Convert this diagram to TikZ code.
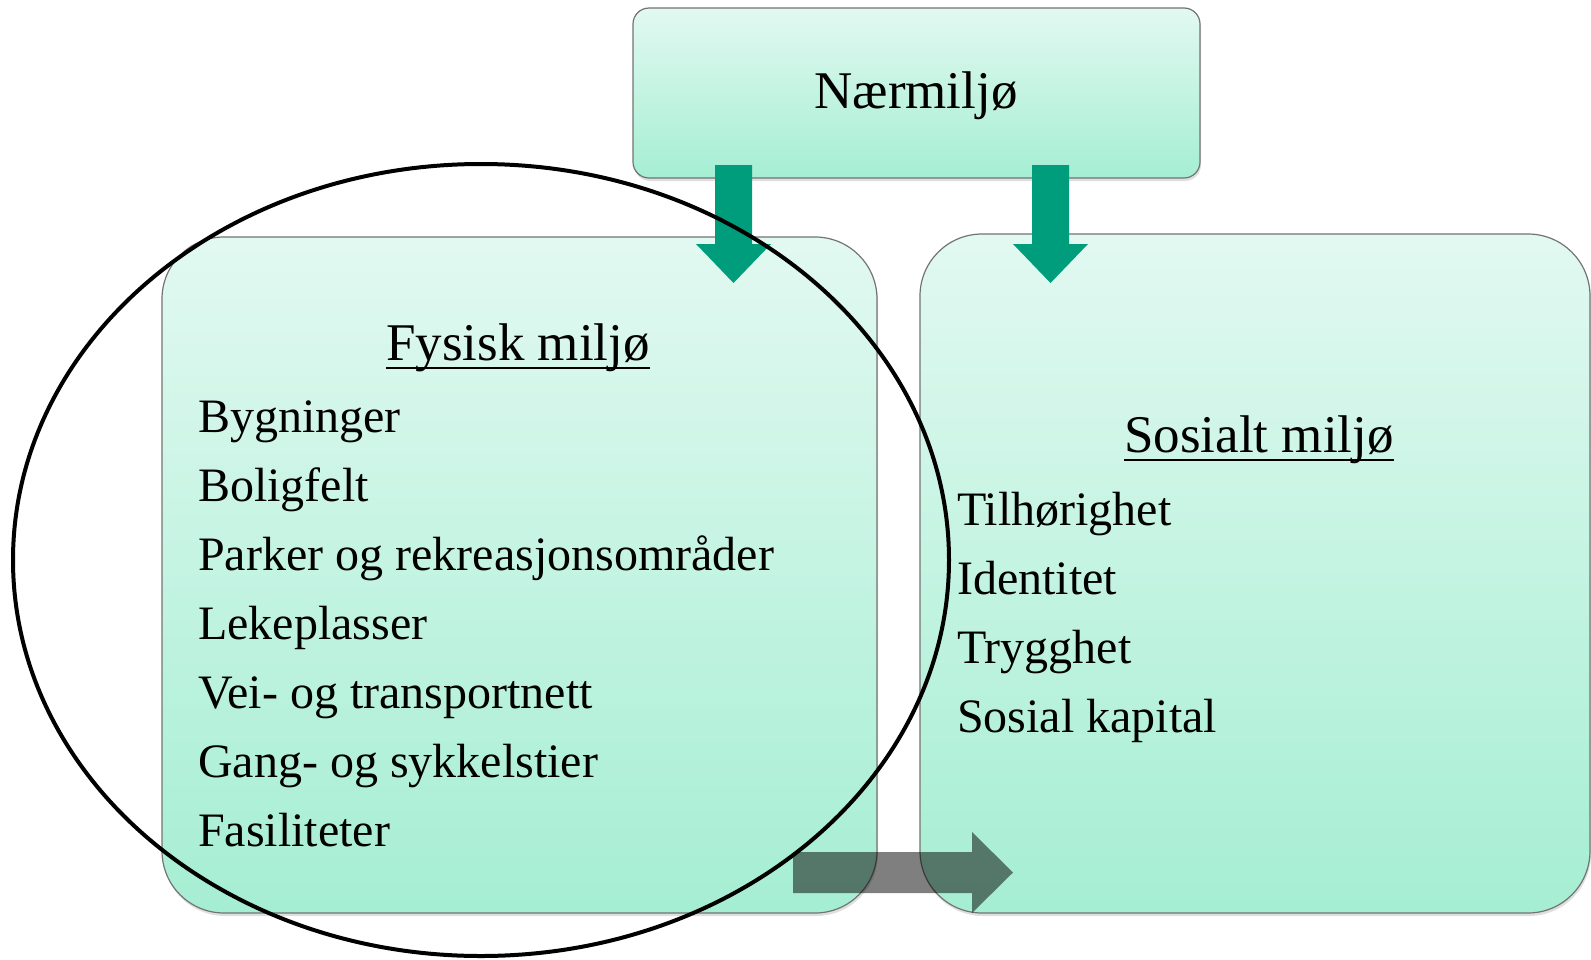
\documentclass[tikz,border=0pt]{standalone}
\usepackage{fontspec}
\setmainfont{Liberation Serif}
\usetikzlibrary{shadows}
\definecolor{boxtop}{RGB}{226,249,241}
\definecolor{boxbot}{RGB}{165,238,211}
\definecolor{arrowgreen}{RGB}{0,157,124}
\definecolor{boxline}{RGB}{115,115,115}
\newcommand\ulhead[1]{\setbox0\hbox{#1}\rlap{\rule[-9pt]{\wd0}{2.2pt}}\box0}
\begin{document}
\begin{tikzpicture}[x=1pt,y=-1pt,
  panel/.style={rectangle, draw=boxline, line width=1.2pt, top color=boxtop, bottom color=boxbot,
    drop shadow={shadow xshift=1pt, shadow yshift=-3pt, opacity=0.25}, inner sep=0pt},
  headtext/.style={anchor=base, font=\fontsize{53}{60}\selectfont, inner sep=0pt},
  itemtext/.style={anchor=base west, font=\fontsize{48}{56}\selectfont, inner sep=0pt},
  greenarrow/.style={fill=arrowgreen},
  grayarrow/.style={fill=black, fill opacity=0.5},
  ring/.style={draw=black, line width=4pt}]
\useasboundingbox (0,0) rectangle (1591,959);

\node[panel, minimum width=567pt, minimum height=170pt, rounded corners=16pt] (top) at (916.5,93) {};
\node[panel, minimum width=715pt, minimum height=676pt, rounded corners=62pt] (fys) at (519.5,575) {};
\node[panel, minimum width=670pt, minimum height=679pt, rounded corners=62pt] (sos) at (1255,573.5) {};

\node[headtext] (t0) at (916,108) {Nærmiljø};
\node[headtext] (t1) at (518,360) {\ulhead{Fysisk miljø}};
\node[headtext] (t2) at (1259,452) {\ulhead{Sosialt miljø}};

\node[itemtext] (f1) at (198,432) {Bygninger};
\node[itemtext] (f2) at (198,501) {Boligfelt};
\node[itemtext] (f3) at (198,570) {Parker og rekreasjonsområder};
\node[itemtext] (f4) at (198,639) {Lekeplasser};
\node[itemtext] (f5) at (198,708) {Vei- og transportnett};
\node[itemtext] (f6) at (198,777) {Gang- og sykkelstier};
\node[itemtext] (f7) at (198,846) {Fasiliteter};

\node[itemtext] (s1) at (957,525) {Tilhørighet};
\node[itemtext] (s2) at (957,594) {Identitet};
\node[itemtext] (s3) at (957,663) {Trygghet};
\node[itemtext] (s4) at (957,732) {Sosial kapital};

\fill[greenarrow] (715,165) -- (752,165) -- (752,244) -- (771,244) -- (733.5,283) -- (696,244) -- (715,244) -- cycle;
\fill[greenarrow] (1032,165) -- (1069,165) -- (1069,244) -- (1088,244) -- (1050.5,283) -- (1013,244) -- (1032,244) -- cycle;

\draw[ring] (481,560) ellipse [x radius=468, y radius=396];

\fill[grayarrow] (793,852) -- (972,852) -- (972,832) -- (1013,872.5) -- (972,913) -- (972,893) -- (793,893) -- cycle;
\end{tikzpicture}
\end{document}
